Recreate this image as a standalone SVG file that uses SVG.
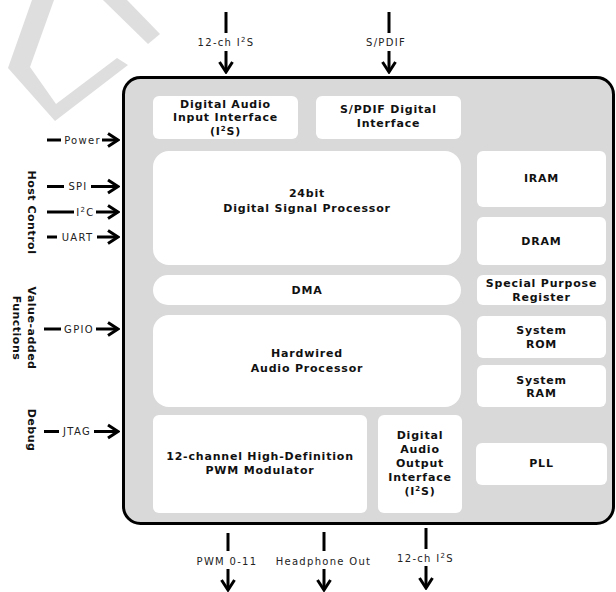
<svg xmlns="http://www.w3.org/2000/svg" width="616" height="592" viewBox="0 0 616 592">
<defs>
<marker id="ah" markerUnits="userSpaceOnUse" viewBox="-14 -9 16 18" markerWidth="16" markerHeight="18" refX="0" refY="0" orient="auto">
<path d="M-10,-6.5 L0,0 L-10,6.5" fill="none" stroke="#000" stroke-width="3"/>
</marker>
<style>
.wm{fill:#dedede}
.main{fill:#d9d9d9;stroke:#000;stroke-width:3}
.b{fill:#fff}
.t{font-family:"DejaVu Sans",Verdana,sans-serif;font-weight:bold;font-size:11px;letter-spacing:0.8px;text-anchor:middle;fill:#111}
.v{font-family:"DejaVu Sans",Verdana,sans-serif;font-weight:bold;font-size:11px;letter-spacing:0.5px;text-anchor:middle;fill:#111}
.l{font-family:"DejaVu Sans",Verdana,sans-serif;font-size:10px;letter-spacing:1.3px;text-anchor:middle;fill:#222}
.c{stroke:#000;stroke-width:3;fill:none}
.a{stroke:#000;stroke-width:3;fill:none;marker-end:url(#ah)}
</style>
</defs>
<rect width="616" height="592" fill="#fff"/>
<g id="watermark">
<polygon class="wm" points="32,0 54,0 30,67 56,104 117,58 128,65 55,121 8,68"/>
<polygon class="wm" points="103,0 127,0 160,34 148,44"/>
</g>
<g id="chip">
<rect class="main" x="123.5" y="77.5" width="490" height="446" rx="17"/>
</g>
<g id="dai_in"><rect class="b" x="153" y="96" width="145" height="43" rx="6"/>
<text class="t" x="225.5" y="108">Digital Audio</text><text class="t" x="225.5" y="121">Input Interface</text><text class="t" x="225.5" y="134.5">(I<tspan dy="-4" font-size="7">2</tspan><tspan dy="4">S)</tspan></text></g>
<g id="spdif"><rect class="b" x="316" y="96" width="145" height="43" rx="6"/>
<text class="t" x="388.5" y="113">S/PDIF Digital</text><text class="t" x="388.5" y="126.5">Interface</text></g>
<g id="dsp"><rect class="b" x="153" y="151" width="308" height="114" rx="16"/>
<text class="t" x="307" y="197">24bit</text><text class="t" x="307" y="212">Digital Signal Processor</text></g>
<g id="iram"><rect class="b" x="477" y="151" width="129" height="56" rx="6"/><text class="t" x="541.5" y="182">IRAM</text></g>
<g id="dram"><rect class="b" x="477" y="217" width="129" height="48" rx="6"/><text class="t" x="541.5" y="244.5">DRAM</text></g>
<g id="dma"><rect class="b" x="153" y="275" width="308" height="30" rx="15"/><text class="t" x="307" y="294">DMA</text></g>
<g id="spr"><rect class="b" x="477" y="275" width="129" height="30" rx="6"/>
<text class="t" x="541.5" y="287">Special Purpose</text><text class="t" x="541.5" y="300.5">Register</text></g>
<g id="hap"><rect class="b" x="153" y="315" width="308" height="92" rx="16"/>
<text class="t" x="307" y="357">Hardwired</text><text class="t" x="307" y="372">Audio Processor</text></g>
<g id="srom"><rect class="b" x="477" y="316" width="129" height="42" rx="6"/>
<text class="t" x="541.5" y="334">System</text><text class="t" x="541.5" y="347.5">ROM</text></g>
<g id="sram"><rect class="b" x="477" y="365" width="129" height="42" rx="6"/>
<text class="t" x="541.5" y="383.5">System</text><text class="t" x="541.5" y="397">RAM</text></g>
<g id="pwm"><rect class="b" x="153" y="415" width="214" height="98" rx="6"/>
<text class="t" x="260" y="460">12-channel High-Definition</text><text class="t" x="260" y="474">PWM Modulator</text></g>
<g id="dai_out"><rect class="b" x="378" y="415" width="84" height="98" rx="6"/>
<text class="t" x="420" y="438.5">Digital</text><text class="t" x="420" y="452.5">Audio</text><text class="t" x="420" y="466.5">Output</text><text class="t" x="420" y="481">Interface</text><text class="t" x="420" y="495">(I<tspan dy="-4" font-size="7">2</tspan><tspan dy="4">S)</tspan></text></g>
<g id="pll"><rect class="b" x="476" y="443" width="131" height="42" rx="6"/><text class="t" x="541.5" y="467">PLL</text></g>
<g id="groups">
<text class="v" transform="translate(28,212.5) rotate(90)">Host Control</text>
<text class="v" transform="translate(28,328) rotate(90)">Value-added</text>
<text class="v" transform="translate(13,328) rotate(90)">Functions</text>
<text class="v" transform="translate(28,430) rotate(90)">Debug</text>
</g>
<g id="connectors">
<line class="c" x1="226" y1="12" x2="226" y2="33"/><line class="a" x1="226" y1="51" x2="226" y2="72"/>
<text class="l" x="226" y="46">12-ch I<tspan dy="-4" font-size="7">2</tspan><tspan dy="4">S</tspan></text>
<line class="c" x1="389" y1="12" x2="389" y2="33"/><line class="a" x1="389" y1="51" x2="389" y2="72"/>
<text class="l" x="386" y="46">S/PDIF</text>
<line class="c" x1="47" y1="140" x2="61" y2="140"/><line class="a" x1="102" y1="140" x2="118" y2="140"/>
<text class="l" x="82.5" y="143.5">Power</text>
<line class="c" x1="47" y1="186.5" x2="64" y2="186.5"/><line class="a" x1="91" y1="186.5" x2="118" y2="186.5"/>
<text class="l" x="78" y="190">SPI</text>
<line class="c" x1="47" y1="212" x2="74" y2="212"/><line class="a" x1="96" y1="212" x2="118" y2="212"/>
<text class="l" x="85.5" y="215.5">I<tspan dy="-4" font-size="7">2</tspan><tspan dy="4">C</tspan></text>
<line class="c" x1="47" y1="237" x2="57" y2="237"/><line class="a" x1="97" y1="237" x2="118" y2="237"/>
<text class="l" x="77.5" y="240.5">UART</text>
<line class="c" x1="44" y1="329" x2="61" y2="329"/><line class="a" x1="96" y1="329" x2="118" y2="329"/>
<text class="l" x="79" y="332.5">GPIO</text>
<line class="c" x1="44" y1="431.5" x2="59" y2="431.5"/><line class="a" x1="94" y1="431.5" x2="118" y2="431.5"/>
<text class="l" x="77" y="435">JTAG</text>
<line class="c" x1="228" y1="533" x2="228" y2="551"/><line class="a" x1="228" y1="569" x2="228" y2="590"/>
<text class="l" x="227" y="565">PWM 0-11</text>
<line class="c" x1="324" y1="532" x2="324" y2="551"/><line class="a" x1="324" y1="569" x2="324" y2="590"/>
<text class="l" x="323.5" y="565">Headphone Out</text>
<line class="c" x1="426" y1="528" x2="426" y2="549"/><line class="a" x1="426" y1="566" x2="426" y2="588"/>
<text class="l" x="425.5" y="562">12-ch I<tspan dy="-4" font-size="7">2</tspan><tspan dy="4">S</tspan></text>
</g>
</svg>
